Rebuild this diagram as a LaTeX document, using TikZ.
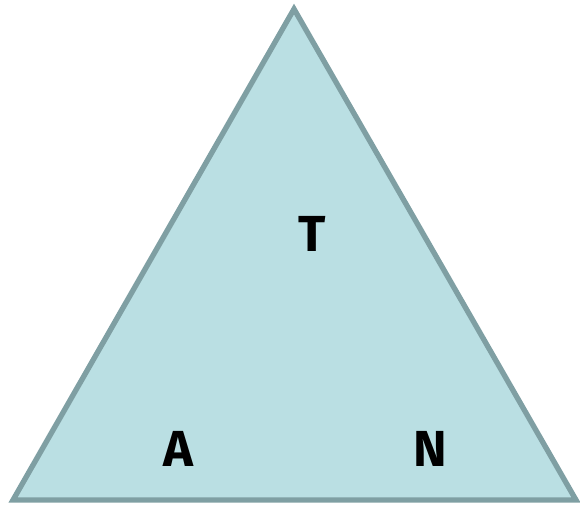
\documentclass[tikz,border=0pt]{standalone}
\usepackage{fontspec}
\setsansfont{Fira Sans}
\definecolor{tfill}{HTML}{BADFE3}
\definecolor{tline}{HTML}{7F9FA3}
\begin{document}
\begin{tikzpicture}[x=0.75pt, y=-0.75pt, every node/.style={font=\sffamily\bfseries\fontsize{38}{40}\selectfont}]
    \useasboundingbox (0,0) rectangle (580,506);
    % Triangulo y sus vertices.
    \coordinate (top) at (294,9);
    \coordinate (left) at (13,500);
    \coordinate (right) at (576,500);
    \filldraw[fill=tfill, draw=tline, line width=4pt, line join=miter] (top) -- (left) -- (right) -- cycle;

    \node (lblT) at (312,234) {T};
    \node (lblA) at (178,449) {A};
    \node (lblN) at (430,449) {N};
\end{tikzpicture}
\end{document}
